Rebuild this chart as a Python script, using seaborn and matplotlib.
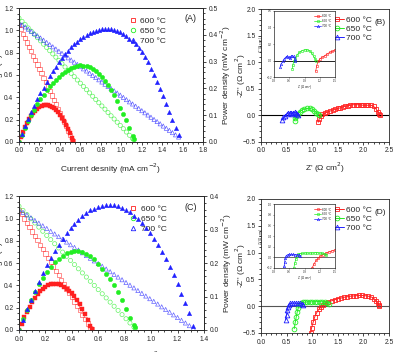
import numpy as np
import pandas as pd
import matplotlib
matplotlib.use("Agg")
import matplotlib.pyplot as plt
from matplotlib.lines import Line2D
import seaborn as sns

# current densities at which the I-V-P points were read (mA cm-2)
grid_02 = [0, 0.02, 0.04, 0.06, 0.08, 0.10, 0.12, 0.14, 0.16, 0.18, 0.20, 0.22, 0.24, 0.26,
           0.28, 0.30, 0.32, 0.34, 0.36, 0.38, 0.40, 0.42, 0.44, 0.46, 0.48, 0.50, 0.52, 0.54]
grid_03 = [0, 0.03, 0.06, 0.09, 0.12, 0.15, 0.18, 0.21, 0.24, 0.27, 0.30, 0.33, 0.36, 0.39,
           0.42, 0.45, 0.48, 0.51, 0.54, 0.57, 0.60, 0.63, 0.66, 0.69, 0.72, 0.75, 0.78, 0.81,
           0.84, 0.87, 0.90, 0.93, 0.96, 0.99, 1.02, 1.05, 1.08, 1.11, 1.14, 1.17, 1.20, 1.23,
           1.26, 1.29, 1.32, 1.35, 1.38, 1.41, 1.44, 1.47, 1.50, 1.53, 1.56]

# ---- (A) ----
a600_i = grid_02[:27] + [0.53]
a600_v = [1.050, 1.010, 0.971, 0.931, 0.892, 0.852, 0.812, 0.773, 0.733, 0.694, 0.654, 0.614,
          0.575, 0.535, 0.496, 0.456, 0.416, 0.377, 0.337, 0.298, 0.258, 0.218, 0.179, 0.139,
          0.100, 0.060, 0.020, 0.005]
a600_p = [0, 0.019, 0.038, 0.055, 0.070, 0.084, 0.097, 0.107, 0.116, 0.124, 0.130, 0.134, 0.137,
          0.138, 0.137, 0.135, 0.131, 0.125, 0.118, 0.110, 0.100, 0.089, 0.077, 0.063, 0.048,
          0.032, 0.014, 0.004]

a650_i = grid_03[:38] + [1.12]
a650_v = [1.110, 1.081, 1.052, 1.022, 0.993, 0.964, 0.935, 0.906, 0.876, 0.847, 0.818, 0.789,
          0.760, 0.731, 0.701, 0.672, 0.643, 0.614, 0.585, 0.555, 0.526, 0.497, 0.468, 0.439,
          0.409, 0.380, 0.351, 0.322, 0.293, 0.263, 0.234, 0.205, 0.176, 0.147, 0.118, 0.088,
          0.059, 0.030, 0.020]
a650_p = [0, 0.027, 0.053, 0.078, 0.099, 0.120, 0.140, 0.159, 0.176, 0.192, 0.207, 0.220, 0.232,
          0.243, 0.252, 0.262, 0.270, 0.276, 0.281, 0.284, 0.286, 0.285, 0.283, 0.278, 0.272,
          0.264, 0.253, 0.242, 0.228, 0.212, 0.194, 0.174, 0.152, 0.128, 0.104, 0.080, 0.053,
          0.023, 0.010]

a700_i = grid_03
a700_v = [1.070, 1.050, 1.031, 1.011, 0.991, 0.971, 0.952, 0.932, 0.912, 0.892, 0.873, 0.853,
          0.833, 0.813, 0.794, 0.774, 0.754, 0.734, 0.715, 0.695, 0.675, 0.655, 0.636, 0.616,
          0.596, 0.577, 0.557, 0.537, 0.517, 0.498, 0.478, 0.458, 0.438, 0.419, 0.399, 0.379,
          0.359, 0.340, 0.320, 0.300, 0.280, 0.261, 0.241, 0.221, 0.201, 0.182, 0.162, 0.142,
          0.122, 0.103, 0.083, 0.063, 0.043]
a700_p = [0, 0.030, 0.059, 0.086, 0.111, 0.135, 0.159, 0.182, 0.203, 0.224, 0.245, 0.263, 0.281,
          0.298, 0.313, 0.328, 0.341, 0.354, 0.365, 0.375, 0.384, 0.392, 0.399, 0.406, 0.411,
          0.416, 0.419, 0.422, 0.423, 0.423, 0.421, 0.418, 0.414, 0.409, 0.402, 0.395, 0.386,
          0.376, 0.364, 0.351, 0.337, 0.318, 0.297, 0.274, 0.251, 0.225, 0.198, 0.170, 0.140,
          0.110, 0.080, 0.053, 0.025]

# ---- (C) ----
c600_i = grid_02 + [0.55]
c600_v = [1.080, 1.041, 1.001, 0.962, 0.923, 0.884, 0.844, 0.805, 0.766, 0.726, 0.687, 0.648,
          0.609, 0.569, 0.530, 0.491, 0.452, 0.412, 0.373, 0.334, 0.294, 0.255, 0.216, 0.177,
          0.137, 0.098, 0.059, 0.019, 0.005]
c600_p = [0, 0.019, 0.038, 0.055, 0.070, 0.084, 0.096, 0.107, 0.116, 0.124, 0.130, 0.135, 0.138,
          0.139, 0.139, 0.137, 0.134, 0.130, 0.124, 0.118, 0.110, 0.101, 0.090, 0.077, 0.063,
          0.048, 0.030, 0.011, 0.003]

c650_i = grid_03[:30] + [0.88]
c650_v = [1.110, 1.073, 1.035, 0.998, 0.960, 0.923, 0.886, 0.848, 0.811, 0.774, 0.736, 0.699,
          0.661, 0.624, 0.587, 0.549, 0.512, 0.475, 0.437, 0.400, 0.362, 0.325, 0.288, 0.250,
          0.213, 0.176, 0.138, 0.101, 0.063, 0.026, 0.014]
c650_p = [0, 0.032, 0.061, 0.089, 0.114, 0.137, 0.156, 0.173, 0.189, 0.202, 0.213, 0.222, 0.230,
          0.234, 0.236, 0.236, 0.233, 0.228, 0.220, 0.211, 0.198, 0.183, 0.168, 0.152, 0.135,
          0.113, 0.089, 0.063, 0.036, 0.015, 0.008]

c700_i = grid_03[:45]
c700_v = [1.080, 1.056, 1.032, 1.007, 0.983, 0.959, 0.935, 0.911, 0.886, 0.862, 0.838, 0.814,
          0.789, 0.765, 0.741, 0.717, 0.693, 0.668, 0.644, 0.620, 0.596, 0.572, 0.547, 0.523,
          0.499, 0.475, 0.451, 0.426, 0.402, 0.378, 0.354, 0.329, 0.305, 0.281, 0.257, 0.233,
          0.208, 0.184, 0.160, 0.136, 0.112, 0.087, 0.063, 0.039, 0.015]
c700_p = [0, 0.031, 0.062, 0.091, 0.118, 0.145, 0.169, 0.193, 0.215, 0.235, 0.255, 0.273, 0.289,
          0.304, 0.317, 0.330, 0.341, 0.350, 0.358, 0.363, 0.369, 0.372, 0.374, 0.375, 0.374,
          0.371, 0.366, 0.360, 0.352, 0.342, 0.332, 0.319, 0.305, 0.289, 0.272, 0.254, 0.234,
          0.212, 0.189, 0.164, 0.138, 0.109, 0.080, 0.050, 0.012]

# ---- (B) impedance spectra ----
b600_re = [1.12, 1.14, 1.17, 1.20, 1.25, 1.30, 1.35, 1.40, 1.45, 1.50, 1.55, 1.60, 1.65, 1.70, 1.75,
           1.80, 1.85, 1.90, 1.95, 2.00, 2.05, 2.10, 2.15, 2.20, 2.25, 2.28, 2.31, 2.32]
b600_im = [-0.13, -0.06, -0.01, 0.02, 0.04, 0.06, 0.08, 0.10, 0.11, 0.13, 0.14, 0.16, 0.17, 0.18, 0.19,
           0.20, 0.20, 0.20, 0.195, 0.19, 0.19, 0.19, 0.19, 0.17, 0.12, 0.07, 0.03, 0.0]
b650_re = [0.66, 0.67, 0.69, 0.72, 0.76, 0.80, 0.85, 0.90, 0.95, 1.00, 1.04, 1.08, 1.11, 1.13]
b650_im = [-0.10, -0.05, -0.01, 0.03, 0.07, 0.10, 0.12, 0.13, 0.13, 0.12, 0.09, 0.05, 0.02, 0.0]
b700_re = [0.42, 0.44, 0.47, 0.50, 0.53, 0.56, 0.59, 0.61, 0.63, 0.66, 0.69, 0.71, 0.72]
b700_im = [-0.08, -0.04, -0.01, 0.02, 0.04, 0.05, 0.04, 0.03, 0.05, 0.06, 0.05, 0.02, 0.0]

# ---- (D) impedance spectra ----
d600_re = [0.97, 0.99, 1.02, 1.05, 1.09, 1.13, 1.17, 1.21, 1.26, 1.32, 1.38, 1.44, 1.50, 1.56, 1.62,
           1.68, 1.74, 1.80, 1.86, 1.92, 1.98, 2.04, 2.10, 2.16, 2.21, 2.25, 2.28, 2.30, 2.31]
d600_im = [-0.50, -0.40, -0.30, -0.20, -0.12, -0.06, -0.02, 0.02, 0.05, 0.08, 0.10, 0.12, 0.14, 0.15,
           0.165, 0.175, 0.185, 0.19, 0.195, 0.20, 0.20, 0.195, 0.185, 0.17, 0.14, 0.10, 0.06, 0.03, 0.0]
d650_re = [0.65, 0.67, 0.69, 0.71, 0.73, 0.75, 0.78, 0.82, 0.86, 0.90, 0.95, 1.00, 1.05, 1.10, 1.15,
           1.20, 1.25, 1.30, 1.33]
d650_im = [-0.42, -0.30, -0.20, -0.10, -0.03, 0.03, 0.06, 0.07, 0.075, 0.08, 0.08, 0.08, 0.08, 0.085,
           0.085, 0.08, 0.075, 0.06, 0.04]
d700_re = [0.48, 0.50, 0.51, 0.52, 0.54, 0.57, 0.60, 0.64, 0.68, 0.72, 0.76, 0.80, 0.82]
d700_im = [-0.25, -0.16, -0.08, -0.02, 0.03, 0.05, 0.055, 0.055, 0.055, 0.05, 0.05, 0.045, 0.03]

temps = ["600 °C", "650 °C", "700 °C"]
colors = ["#ff2020", "#22ee22", "#2020ff"]
markers = ["s", "o", "^"]

sns.set_style("ticks")
plt.rcParams["font.family"] = ["Liberation Sans", "DejaVu Sans"]
plt.rcParams["xtick.labelsize"] = 4.8
plt.rcParams["ytick.labelsize"] = 4.8
plt.rcParams["axes.labelsize"] = 6
plt.rcParams["axes.linewidth"] = 0.6
plt.rcParams["xtick.major.width"] = 0.6
plt.rcParams["ytick.major.width"] = 0.6
plt.rcParams["xtick.major.size"] = 2.5
plt.rcParams["ytick.major.size"] = 2.5
plt.rcParams["xtick.minor.size"] = 1.5
plt.rcParams["ytick.minor.size"] = 1.5
plt.rcParams["xtick.major.pad"] = 1.5
plt.rcParams["ytick.major.pad"] = 1.5

fig = plt.figure(figsize=(3.96, 3.52), dpi=100)


def ivp_panel(rect, data, xmax, pmax, tag):
    ax = fig.add_axes(rect)
    ax2 = ax.twinx()
    for (i, v, p), c, m in zip(data, colors, markers):
        df = pd.DataFrame({"I": i, "V": v, "P": p})
        sns.scatterplot(data=df, x="I", y="V", ax=ax, marker=m, s=9, color=c,
                        facecolors="none", edgecolor=c, linewidth=0.5, alpha=0.7)
        sns.scatterplot(data=df, x="I", y="P", ax=ax2, marker=m, s=10, color=c,
                        edgecolor=c, linewidth=0.3)
    ax.set_xlim(0, xmax)
    ax.set_ylim(0, 1.2)
    ax2.set_ylim(0, pmax)
    ax.set_xticks(np.arange(0, xmax + 0.01, 0.2))
    ax.set_yticks(np.arange(0, 1.21, 0.2))
    ax2.set_yticks(np.arange(0, pmax + 0.01, 0.1))
    ax.xaxis.set_major_formatter("{x:.1f}")
    ax.yaxis.set_major_formatter("{x:.1f}")
    ax2.yaxis.set_major_formatter("{x:.1f}")
    ax.minorticks_on()
    ax2.minorticks_on()
    ax.set_xlabel("Current desnity (mA cm$^{-2}$)")
    ax.set_ylabel("Voltage (V)")
    ax2.set_ylabel("Power density (mW cm$^{-2}$)")
    ax.xaxis.set_label_coords(0.5, -0.15)
    ax.yaxis.set_label_coords(-0.085, 0.5)
    ax2.yaxis.set_label_coords(1.085, 0.5)
    handles = [Line2D([], [], ls="none", marker=m, mfc="none", mec=c, ms=3.2, mew=0.6)
               for c, m in zip(colors, markers)]
    ax.legend(handles, temps, loc="upper right", bbox_to_anchor=(0.84, 0.99), frameon=False,
              fontsize=6, handletextpad=0.3, labelspacing=0.25, handlelength=1.2)
    ax.text(0.965, 0.9, tag, transform=ax.transAxes, fontsize=6.5, ha="right")


def nyquist(ax, data, lw=0.7, ms=3.4, mew=0.6):
    for (re, im), c, m, t in zip(data, colors, markers, temps):
        df = pd.DataFrame({"Zre": re, "Zim": im})
        sns.lineplot(data=df, x="Zre", y="Zim", ax=ax, sort=False, estimator=None, color=c,
                     marker=m, markersize=ms, markerfacecolor="none", markeredgecolor=c,
                     markeredgewidth=mew, linewidth=lw, label=t)


def eis_panel(rect, inset_rect, data, ymax_in, zero_col, tag):
    ax = fig.add_axes(rect)
    ax.axhline(0, color=zero_col, lw=0.8, zorder=0)
    nyquist(ax, data)
    ax.set_xlim(0, 2.5)
    ax.set_ylim(-0.5, 2.0)
    ax.set_xticks(np.arange(0, 2.51, 0.5))
    ax.set_yticks(np.arange(-0.5, 2.01, 0.5))
    ax.xaxis.set_major_formatter("{x:.1f}")
    ax.yaxis.set_major_formatter("{x:.1f}")
    ax.minorticks_on()
    ax.set_xlabel("Z' (\u03a9 cm$^2$)")
    ax.set_ylabel("-Z'' (\u03a9 cm$^2$)")
    ax.xaxis.set_label_coords(0.5, -0.14)
    ax.yaxis.set_label_coords(-0.105, 0.5)
    ax.legend(loc="upper right", bbox_to_anchor=(0.91, 0.985), frameon=False, fontsize=6,
              handlelength=1.6, handletextpad=0.3, labelspacing=0.15, borderaxespad=0.2)
    ax.text(0.975, 0.885, tag, transform=ax.transAxes, fontsize=6, ha="right")

    ins = fig.add_axes(inset_rect)
    ins.axhline(0, color=zero_col, lw=0.6, zorder=0)
    nyquist(ins, data, lw=0.5, ms=1.8, mew=0.4)
    ins.set_xlim(0.3, 1.5)
    ins.set_ylim(-0.2, ymax_in)
    ins.set_xticks(np.arange(0.3, 1.51, 0.3))
    ins.set_yticks(np.arange(-0.2, ymax_in + 0.01, 0.2))
    ins.xaxis.set_major_formatter("{x:.1f}")
    ins.yaxis.set_major_formatter("{x:.1f}")
    ins.tick_params(labelsize=2, length=1, width=0.4, pad=0.5)
    for s in ins.spines.values():
        s.set_linewidth(0.5)
    ins.set_xlabel("Z' (\u03a9 cm$^2$)", fontsize=2.2, labelpad=0.5)
    ins.set_ylabel("-Z'' (\u03a9 cm$^2$)", fontsize=2.2, labelpad=0.5)
    ins.legend(loc="upper right", frameon=False, fontsize=2.2, handlelength=2.5,
               handletextpad=0.3, labelspacing=0.3, borderpad=0.6)


ivp_panel([0.048, 0.597, 0.465, 0.38],
          [(a600_i, a600_v, a600_p), (a650_i, a650_v, a650_p), (a700_i, a700_v, a700_p)],
          1.8, 0.5, "(A)")
ivp_panel([0.048, 0.0625, 0.467, 0.38],
          [(c600_i, c600_v, c600_p), (c650_i, c650_v, c650_p), (c700_i, c700_v, c700_p)],
          1.4, 0.4, "(C)")
eis_panel([0.659, 0.597, 0.323, 0.377], [0.692, 0.781, 0.154, 0.188],
          [(b600_re, b600_im), (b650_re, b650_im), (b700_re, b700_im)], 0.6, "black", "(B)")
eis_panel([0.659, 0.054, 0.323, 0.381], [0.692, 0.239, 0.154, 0.181],
          [(d600_re, d600_im), (d650_re, d650_im), (d700_re, d700_im)], 1.0, "#555555", "(D)")

fig.savefig("out.png", dpi=100)
